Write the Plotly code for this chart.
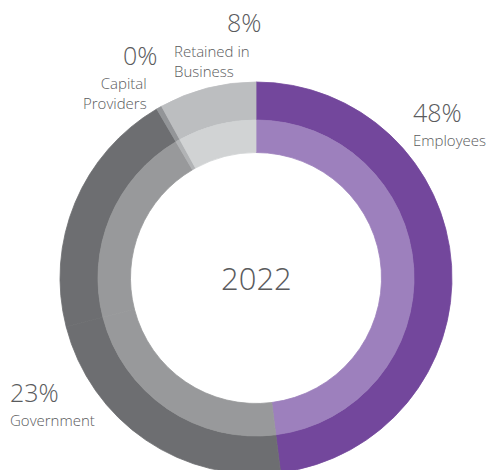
import plotly.graph_objects as go

# Share of value distributed, 2022 (clockwise from 12 o'clock)
categories = ["Employees", "Government", "Other", "Capital Providers", "Retained in Business"]
values = [48, 23, 20.55, 0.45, 8]
pct_labels = ["48%", "23%", "", "0%", "8%"]
name_labels = ["Employees", "Government", "", "Capital<br>Providers", "Retained in<br>Business"]
year_label = "2022"

outer_colors = ["#73479C", "#6D6E71", "#6D6E71", "#939598", "#BCBEC0"]
inner_colors = ["#9D80BD", "#98999B", "#98999B", "#B1B3B5", "#D1D3D4"]

W, H = 492, 480
CX, CY = 256, 278          # ring centre in pixels from top-left
R_OUT, R_MID, R_HOLE = 196, 158, 125.5


def dom(r):
    return dict(x=[(CX - r) / W, (CX + r) / W],
                y=[(H - CY - r) / H, (H - CY + r) / H])


fig = go.Figure()
for colors, r_a, r_b in [(outer_colors, R_OUT, R_MID), (inner_colors, R_MID, R_HOLE)]:
    fig.add_trace(go.Pie(
        labels=categories, values=values, sort=False, direction="clockwise",
        rotation=0, hole=r_b / r_a, domain=dom(r_a),
        marker=dict(colors=colors, line=dict(width=0.8, color=colors)),
        textinfo="none", hoverinfo="label+value", showlegend=False,
    ))

TXT = "#5A5B5D"
FONT = "Open Sans"
PCT_SIZE, NAME_SIZE = 25, 15


def px(x, y):
    return x / W, 1 - y / H


def note(text, x, y, xanchor, size, align="left"):
    ax, ay = px(x, y)
    fig.add_annotation(text=text, x=ax, y=ay, xref="paper", yref="paper",
                       xanchor=xanchor, yanchor="middle", align=align,
                       showarrow=False,
                       font=dict(family=FONT, size=size, color=TXT, weight=300))


def pct(i, x, y, anchor):
    note(pct_labels[i], x, y, anchor, PCT_SIZE)


def name(i, x, y, anchor):
    note(name_labels[i], x, y, anchor, NAME_SIZE, align=anchor)


pct(0, 411, 112, "left")
name(0, 411, 140, "left")

pct(1, 8, 392, "left")
name(1, 8, 420, "left")

pct(3, 159, 55, "right")
name(3, 149, 93, "right")

pct(4, 263, 22, "right")
name(4, 172, 61, "left")

cx, cy = px(CX, CY)
fig.add_annotation(text=year_label, x=cx, y=cy, xref="paper", yref="paper",
                   xanchor="center", yanchor="middle", showarrow=False,
                   font=dict(family=FONT, size=31, color=TXT, weight=300))

fig.update_layout(width=W, height=H, margin=dict(l=0, r=0, t=0, b=0),
                  paper_bgcolor="white", plot_bgcolor="white")

fig.write_html("out.html", post_script="document.body.style.overflow='hidden';")
